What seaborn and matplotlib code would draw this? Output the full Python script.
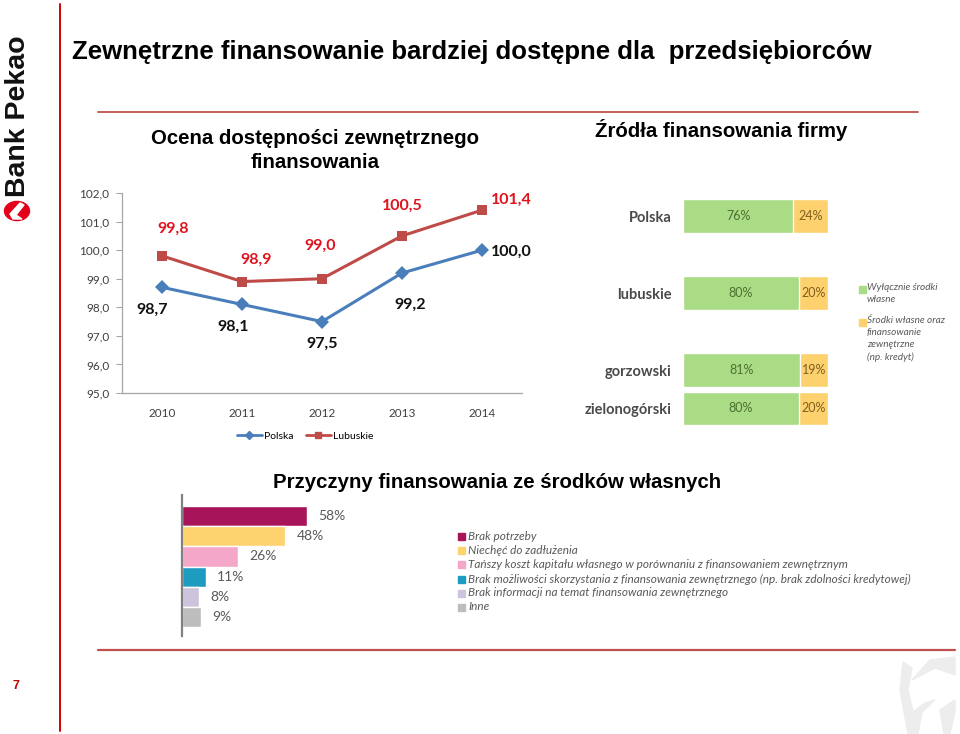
import matplotlib
matplotlib.use("Agg")
import matplotlib.pyplot as plt
import seaborn as sns
import pandas as pd
import numpy as np
from matplotlib.patches import Rectangle, Circle, Polygon
from matplotlib.lines import Line2D

# ---------------- data ----------------
years = ["2010", "2011", "2012", "2013", "2014"]
polska = [98.7, 98.1, 97.5, 99.2, 100.0]
lubuskie = [99.8, 98.9, 99.0, 100.5, 101.4]
y_ticks = [95, 96, 97, 98, 99, 100, 101, 102]

regions = ["Polska", "lubuskie", "gorzowski", "zielonogórski"]
own_funds = [76, 80, 81, 80]
ext_funds = [24, 20, 19, 20]

reasons = ["Brak potrzeby",
           "Niechęć do zadłużenia",
           "Tańszy koszt kapitału własnego w porównaniu z finansowaniem zewnętrznym",
           "Brak możliwości skorzystania z finansowania zewnętrznego (np. brak zdolności kredytowej)",
           "Brak informacji na temat finansowania zewnętrznego",
           "Inne"]
reason_pct = [58, 48, 26, 11, 8, 9]

# ---------------- layout / style ----------------
W, H = 960, 734
row_slots = [0, 2, 4, 5]
lub_offsets = [(11, 27), (14, 22), (-2, 33), (0, 30), (29, 10)]
pol_offsets = [(-10, -23), (-9, -22), (0, -22), (8, -32), (29, -2)]
reason_colors = ["#A8145A", "#FDD36E", "#F4A7C9", "#1E9CC0", "#CBC4DC", "#BDBDBD"]
GREEN, ORANGE = "#A9DC84", "#FDD16E"
BLUE, RED = "#4A7EBB", "#BE4B48"
GRAY_TXT = "#595959"

sns.set_theme(style="white")
plt.rcParams["font.family"] = ["Lato", "DejaVu Sans"]
plt.rcParams["text.color"] = "black"

fig = plt.figure(figsize=(9.6, 7.34), dpi=100)
fig.patch.set_facecolor("white")


def ax_px(x0, y0, x1, y1):
    return fig.add_axes([x0 / W, 1 - y1 / H, (x1 - x0) / W, (y1 - y0) / H])


def fx(x):
    return x / W


def fy(y):
    return 1 - y / H


# ---------------- decorations ----------------
fig.add_artist(Line2D([fx(60), fx(60)], [fy(4), fy(731)], color="#D40000", lw=1.4))
fig.add_artist(Line2D([fx(98), fx(918)], [fy(112), fy(112)], color="#C0504D", lw=1.3))
fig.add_artist(Line2D([fx(98), fx(955)], [fy(650), fy(650)], color="#C0504D", lw=1.6))
fig.text(fx(16), fy(686), "7", color="#C00000", fontsize=9, fontweight="bold",
         ha="center", va="center", family=["Liberation Sans", "DejaVu Sans"])

# logo
fig.text(fx(18), fy(116), "Bank Pekao", rotation=90, ha="center", va="center",
         fontsize=20.5, fontweight="bold", color="#111111",
         family=["Liberation Sans Narrow", "Liberation Sans", "DejaVu Sans"])
fig.add_artist(Circle((fx(17), fy(211)), 12.5 / W, transform=fig.transFigure,
                      color="#E2001A", zorder=5))
fig.add_artist(Polygon([(fx(10), fy(214)), (fx(20), fy(203)), (fx(24), fy(205)),
                        (fx(16), fy(215)), (fx(22), fy(219)), (fx(13), fy(219))],
                       closed=True, transform=fig.transFigure, color="white", zorder=6))

# watermark
fig.add_artist(Polygon([(fx(903), fy(662)), (fx(912), fy(668)), (fx(908), fy(690)),
                        (fx(913), fy(712)), (fx(925), fy(703)), (fx(935), fy(700)),
                        (fx(922), fy(712)), (fx(918), fy(734)), (fx(908), fy(734)),
                        (fx(900), fy(690))],
                       closed=True, transform=fig.transFigure, color="#EDEDED", zorder=0))
fig.add_artist(Polygon([(fx(912), fy(680)), (fx(930), fy(660)), (fx(955), fy(657)),
                        (fx(955), fy(675)), (fx(935), fy(668))],
                       closed=True, transform=fig.transFigure, color="#EDEDED", zorder=0))
fig.add_artist(Polygon([(fx(940), fy(710)), (fx(955), fy(700)), (fx(955), fy(712)),
                        (fx(950), fy(734)), (fx(944), fy(734))],
                       closed=True, transform=fig.transFigure, color="#EDEDED", zorder=0))

# titles
HFONT = ["Liberation Sans", "DejaVu Sans"]
fig.text(fx(72), fy(52), "Zewnętrzne finansowanie bardziej dostępne dla  przedsiębiorców",
         ha="left", va="center", fontsize=18.5, fontweight="bold", family=HFONT,
         color="black")
fig.text(fx(315), fy(139), "Ocena dostępności zewnętrznego", ha="center",
         va="center", fontsize=14.7, fontweight="bold", family=HFONT, color="black")
fig.text(fx(315), fy(163), "finansowania", ha="center",
         va="center", fontsize=14.7, fontweight="bold", family=HFONT, color="black")
fig.text(fx(721), fy(130), "Źródła finansowania firmy", ha="center", va="center",
         fontsize=14.7, fontweight="bold", family=HFONT, color="black")
fig.text(fx(497), fy(483), "Przyczyny finansowania ze środków własnych", ha="center",
         va="center", fontsize=14.7, fontweight="bold", family=HFONT, color="black")

# ---------------- line chart ----------------
ax1 = ax_px(122, 193, 522, 393)
df1 = pd.DataFrame({"Rok": years * 2, "Wartość": polska + lubuskie,
                    "Seria": ["Polska"] * len(years) + ["Lubuskie"] * len(years)})
sns.lineplot(data=df1, x="Rok", y="Wartość", hue="Seria", style="Seria",
             markers={"Polska": "D", "Lubuskie": "s"}, dashes=False,
             palette={"Polska": BLUE, "Lubuskie": RED}, markersize=7.5,
             markeredgewidth=0, linewidth=2.2, legend=False, ax=ax1)
ax1.set_ylim(95, 102)
ax1.set_xlim(-0.5, len(years) - 0.5)
ax1.set_yticks(y_ticks)
ax1.set_yticklabels([f"{t:.1f}".replace(".", ",") for t in y_ticks])
ax1.set_xticks(range(len(years)))
ax1.set_xticklabels(years)
ax1.set_xticks(np.arange(-0.5, len(years), 1), minor=True)
ax1.tick_params(axis="x", which="major", length=0, pad=11, labelsize=8.5, labelcolor="#404040")
ax1.tick_params(axis="x", which="minor", length=4, width=0.8, color="#A6A6A6", direction="out")
ax1.tick_params(axis="y", length=4, width=0.8, color="#A6A6A6", direction="out", pad=5,
                labelsize=8.5, labelcolor="#404040", left=True)
ax1.set_xlabel("")
ax1.set_ylabel("")
for s in ["top", "right"]:
    ax1.spines[s].set_visible(False)
for s in ["left", "bottom"]:
    ax1.spines[s].set_color("#A6A6A6")
    ax1.spines[s].set_linewidth(0.9)
ax1.set_facecolor("none")

for i, v in enumerate(lubuskie):
    ax1.annotate(f"{v:.1f}".replace(".", ","), (i, v), xytext=lub_offsets[i],
                 textcoords="offset pixels", ha="center", va="center",
                 fontsize=11.5, fontweight="bold", color="#E0141E")
for i, v in enumerate(polska):
    ax1.annotate(f"{v:.1f}".replace(".", ","), (i, v), xytext=pol_offsets[i],
                 textcoords="offset pixels", ha="center", va="center",
                 fontsize=11.5, fontweight="bold", color="#111111")

leg_handles = [Line2D([], [], color=BLUE, marker="D", markersize=4.5, lw=2),
               Line2D([], [], color=RED, marker="s", markersize=5, lw=2)]
fig.legend(leg_handles, ["Polska", "Lubuskie"], loc="center",
           bbox_to_anchor=(fx(305), fy(436)), ncol=2, frameon=False, fontsize=7.5,
           handlelength=2.4, handletextpad=0.2, columnspacing=1.2)

# ---------------- stacked bars (right) ----------------
ax2 = ax_px(683, 195, 828, 430)
df2 = pd.DataFrame({"Region": regions, "slot": row_slots, "own": own_funds,
                    "ext": ext_funds})
df2["total"] = df2["own"] + df2["ext"]
sns.barplot(data=df2, x="total", y="slot", orient="h", native_scale=True, color=ORANGE,
            width=0.88, saturation=1, errorbar=None, ax=ax2)
sns.barplot(data=df2, x="own", y="slot", orient="h", native_scale=True, color=GREEN,
            width=0.88, saturation=1, errorbar=None, ax=ax2)
ax2.set_xlim(0, 100)
ax2.set_ylim(5.56, -0.55)
ax2.set_yticks(row_slots)
ax2.set_yticklabels(regions)
ax2.tick_params(axis="y", length=0, pad=8, labelsize=10.5, labelcolor="#4A4A4A")
for lab in ax2.get_yticklabels():
    lab.set_fontweight("bold")
ax2.set_xticks([])
ax2.set_xlabel("")
ax2.set_ylabel("")
for s in ax2.spines.values():
    s.set_visible(False)
ax2.set_facecolor("none")
for slot, o, e in zip(row_slots, own_funds, ext_funds):
    ax2.text(o / 2, slot, f"{o}%", ha="center", va="center", fontsize=9, color="#4D7030")
    ax2.text(o + e / 2, slot, f"{e}%", ha="center", va="center", fontsize=9, color="#806020")

# right legend
for (yy, col, txt) in [(289, GREEN, "Wyłącznie środki\nwłasne"),
                       (322, ORANGE, "Środki własne oraz\nfinansowanie\nzewnętrzne\n(np. kredyt)")]:
    fig.add_artist(Rectangle((fx(859), fy(yy + 3.5)), 6.5 / W, 6.5 / H,
                             transform=fig.transFigure, color=col))
    fig.text(fx(867), fy(yy - 6), txt, ha="left", va="top", fontsize=7.2, style="italic",
             color=GRAY_TXT, linespacing=1.45)

# ---------------- reasons bars (bottom) ----------------
ax3 = ax_px(182, 495, 440, 636)
df3 = pd.DataFrame({"Przyczyna": reasons, "Procent": reason_pct})
sns.barplot(data=df3, x="Procent", y="Przyczyna", hue="Przyczyna", palette=reason_colors,
            width=1.0, orient="h", saturation=1, legend=False, errorbar=None, ax=ax3)
ax3.set_xlim(0, 258 / 2.155)
ax3.set_ylim(5.95, -1.05)
ax3.set_xticks([])
ax3.set_yticks([])
ax3.set_xlabel("")
ax3.set_ylabel("")
for s in ["top", "right", "bottom"]:
    ax3.spines[s].set_visible(False)
ax3.spines["left"].set_color("#808080")
ax3.spines["left"].set_linewidth(1.6)
ax3.set_facecolor("none")
for i, v in enumerate(reason_pct):
    ax3.annotate(f"{v}%", (v, i), xytext=(11, 0), textcoords="offset pixels",
                 ha="left", va="center", fontsize=10, color=GRAY_TXT)

leg_y = [536, 550, 564, 579, 593, 607]
for yy, col, txt in zip(leg_y, reason_colors, reasons):
    fig.add_artist(Rectangle((fx(458), fy(yy + 3.5)), 7 / W, 7 / H,
                             transform=fig.transFigure, color=col))
    fig.text(fx(468), fy(yy), txt, ha="left", va="center", fontsize=8.5, style="italic",
             color=GRAY_TXT)

fig.savefig("out.png", dpi=100)
